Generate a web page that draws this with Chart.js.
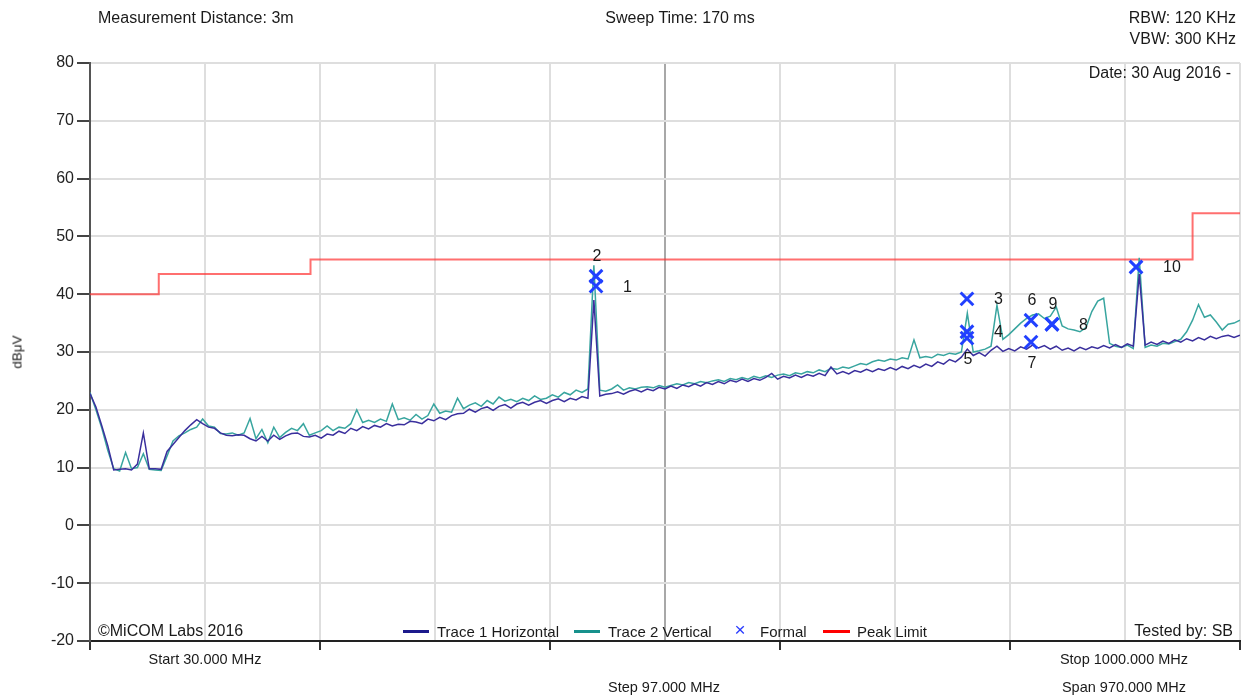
<!DOCTYPE html>
<html>
<head>
<meta charset="utf-8">
<title>Radiated Emissions 30 - 1000 MHz</title>
<script src="https://cdn.jsdelivr.net/npm/chart.js@4.4.1/dist/chart.umd.min.js"></script>
<style>
body{margin:0;background:#fff;font-family:"Liberation Sans",Arial,sans-serif;color:#1a1a1a}
#wrap{position:relative;width:1247px;height:698px;overflow:hidden}
#wrap canvas{position:absolute;left:0;top:0}
.t{position:absolute;white-space:nowrap;line-height:20px;height:20px;font-size:16px}
.c{transform:translateX(-50%)}
.s{font-size:14.5px}
.lg{font-size:15px}
.ln{position:absolute;height:3px}
#ytitle{position:absolute;left:17px;top:352px;font-size:13.5px;white-space:nowrap;transform:translate(-50%,-50%) rotate(-90deg)}
</style>
</head>
<body>
<div id="wrap">
<canvas id="emc" width="1247" height="698"></canvas>

<div class="t" style="left:98px;top:8px">Measurement Distance: 3m</div>
<div class="t c" style="left:680px;top:8px">Sweep Time: 170 ms</div>
<div class="t" style="right:11px;top:8px">RBW: 120 KHz</div>
<div class="t" style="right:11px;top:29px">VBW: 300 KHz</div>
<div class="t" style="right:16px;top:63px">Date: 30 Aug 2016 -</div>
<div class="t" style="left:98px;top:621px">©MiCOM Labs 2016</div>
<div class="t" style="right:14px;top:621px">Tested by: SB</div>

<!-- legend, sits inside the plot like the original -->
<div class="ln" style="left:403px;top:630px;width:26px;background:#1c1a8c"></div>
<div class="t lg" style="left:437px;top:622px">Trace 1 Horizontal</div>
<div class="ln" style="left:574px;top:630px;width:26px;background:#17918c"></div>
<div class="t lg" style="left:608px;top:622px">Trace 2 Vertical</div>
<div class="t c" style="left:740px;top:620px;color:#2a3cff;font-size:19px">×</div>
<div class="t lg" style="left:760px;top:622px">Formal</div>
<div class="ln" style="left:823px;top:630px;width:27px;background:#ff0000"></div>
<div class="t lg" style="left:857px;top:622px">Peak Limit</div>

<div class="t c s" style="left:205px;top:649px">Start 30.000 MHz</div>
<div class="t c s" style="left:1124px;top:649px">Stop 1000.000 MHz</div>
<div class="t c s" style="left:664px;top:677px">Step 97.000 MHz</div>
<div class="t c s" style="left:1124px;top:677px">Span 970.000 MHz</div>
<div id="ytitle">dBμV</div>
</div>

<script>
// sweep: 30 MHz start, one reading every 5 MHz up to 1000 MHz
var startFreq = 30;
var stepFreq = 5;

// Trace 1 Horizontal (dBuV)
var trace1 = [
 22.8, 20.5, 17.2, 13.8, 9.6, 9.7, 9.8, 9.6, 10.6, 16.0,
 9.8, 9.8, 9.7, 12.8, 14.0, 15.2, 16.4, 17.4, 18.3, 17.6,
 17.0, 16.8, 16.0, 15.6, 15.5, 15.7, 15.6, 15.0, 14.6, 15.4,
 14.6, 15.6, 14.9, 15.5, 15.9, 16.0, 15.4, 15.3, 15.6, 15.1,
 15.8, 15.6, 16.3, 15.9, 16.8, 16.4, 17.1, 16.7, 17.3, 17.0,
 17.6, 17.2, 17.5, 17.4, 18.0, 17.9, 17.6, 18.4, 18.1, 18.7,
 18.3, 19.0, 19.3, 19.4, 20.1, 19.6, 20.2, 20.5, 19.9, 20.6,
 20.9, 20.3, 21.0, 21.3, 20.8, 21.3, 21.6, 21.1, 21.6, 21.9,
 21.4, 22.0, 21.7, 22.3, 22.0, 39.0, 22.4, 22.7, 22.8, 23.1,
 22.7, 23.2, 23.5, 23.1, 23.6, 23.3, 23.9, 23.6, 24.1, 23.7,
 24.3, 24.0, 24.5, 24.1, 24.7, 24.4, 24.9, 24.5, 25.1, 24.8,
 25.3, 24.9, 25.4, 25.1, 25.6, 26.3, 25.3, 25.8, 25.5, 26.0,
 25.6, 26.1, 25.8, 26.3, 25.9, 27.4, 26.2, 26.6, 26.2, 26.8,
 26.5, 27.0, 26.6, 27.1, 26.8, 27.3, 26.9, 27.5, 27.1, 27.7,
 27.3, 27.9, 27.5, 28.3, 27.9, 28.7, 28.3, 29.1, 30.5, 29.4,
 29.9, 29.3, 30.3, 31.0, 30.1, 30.6, 30.2, 30.9, 30.5, 31.2,
 30.7, 31.1, 30.5, 31.0, 30.3, 30.7, 30.2, 30.8, 30.4, 30.9,
 30.6, 31.1, 30.7, 31.3, 30.8, 31.4, 31.0, 43.5, 31.2, 31.7,
 31.3, 31.9, 31.5, 32.1, 31.7, 32.3, 31.9, 32.5, 32.1, 32.7,
 32.3, 32.7, 32.9, 32.5, 32.9
];

// Trace 2 Vertical (dBuV)
var trace2 = [
 23.0, 20.0, 16.8, 13.0, 9.8, 9.4, 12.6, 9.8, 10.0, 12.4,
 9.7, 9.6, 9.5, 12.0, 14.6, 15.5, 16.0, 16.6, 17.0, 18.4,
 17.2, 17.0, 15.9, 15.8, 16.0, 15.6, 16.0, 18.5, 15.0, 16.6,
 14.3, 17.0, 15.2, 16.1, 16.8, 16.4, 17.6, 15.6, 16.0, 16.4,
 17.2, 16.4, 17.0, 16.8, 17.6, 20.0, 17.8, 18.2, 17.8, 18.4,
 18.0, 21.0, 18.3, 18.6, 18.2, 19.2, 18.4, 19.0, 21.0, 19.4,
 19.8, 19.6, 22.0, 20.2, 20.8, 21.2, 20.6, 21.6, 21.0, 22.2,
 21.5, 21.8, 21.4, 22.0, 21.6, 22.4, 21.8, 22.0, 22.6, 22.2,
 23.0, 22.6, 23.4, 23.0, 23.6, 45.0, 23.4, 23.2, 23.6, 24.3,
 23.4, 23.8, 23.6, 23.9, 24.0, 23.8, 24.2, 23.9, 24.2, 24.5,
 24.3, 24.7, 24.5, 24.9, 24.7, 25.0, 25.2, 24.9, 25.4, 25.2,
 25.6, 25.3, 25.8, 25.5, 25.9, 25.6, 26.0, 26.2, 25.9, 26.4,
 26.2, 26.6, 26.4, 26.9, 26.6, 27.2, 27.0, 27.4, 27.2, 27.6,
 28.0, 27.8, 28.3, 28.6, 28.4, 28.8, 28.6, 29.0, 28.8, 32.1,
 29.0, 29.2, 29.0, 29.6, 29.4, 29.8, 29.6, 30.0, 36.7, 30.0,
 30.2, 30.5, 31.0, 38.1, 32.2, 33.0, 34.0, 35.0, 35.8, 36.4,
 36.6, 35.8, 36.2, 37.8, 34.5, 34.0, 33.8, 33.5, 34.2, 37.0,
 38.8, 39.3, 31.5, 31.0, 30.8, 31.2, 30.6, 46.3, 30.8, 31.2,
 31.0, 31.5, 31.4, 31.8, 32.2, 33.5, 35.5, 38.2, 36.0, 36.4,
 35.2, 33.8, 34.8, 35.0, 35.5
];

// Formal measurement markers
var markerName  = ['1', '2', '3', '4', '5', '6', '7', '8', '9', '10'];
var markerFreq  = [456.8, 456.8, 769.7, 769.7, 769.7, 823.7, 823.7, 841.4, 841.4, 912.3];
var markerLevel = [41.4, 43.1, 39.2, 33.5, 32.4, 35.5, 31.7, 34.8, 34.8, 44.7];
// where each number sits next to its cross
var markerLabelSide = ['right', 'above', 'right', 'right', 'below', 'above', 'below', 'right', 'above', 'right'];

// Peak limit (dBuV), steps up at each frequency
var limitFreq  = [30, 88, 216, 960, 1000];
var limitLevel = [40, 43.5, 46, 54, 54];

// y axis
var yMin = -20, yMax = 80, yStep = 10;
// x axis grid: 10 divisions of 97 MHz
var xMin = 30, xMax = 1000, xStep = 97;


var freqs = trace1.map(function(v, i){ return startFreq + i * stepFreq; });

function pts(xs, ys){
	return xs.map(function(x, i){ return {x: x, y: ys[i]}; });
}

//draws the marker numbers beside the crosses
var markerLabels = {
	id: 'markerLabels',
	afterDatasetsDraw: function(chart){
		var ctx = chart.ctx, x = chart.scales.x, y = chart.scales.y;
		ctx.save();
		ctx.font = '16px "Liberation Sans", Arial, sans-serif';
		ctx.fillStyle = '#1a1a1a';
		ctx.textBaseline = 'middle';
		for (var i = 0; i < markerName.length; i++) {
			var px = x.getPixelForValue(markerFreq[i]);
			var py = y.getPixelForValue(markerLevel[i]);
			var side = markerLabelSide[i];
			if (side == 'right') {
				ctx.textAlign = 'left';
				ctx.fillText(markerName[i], px + 27, py + 1);
			} else if (side == 'above') {
				ctx.textAlign = 'center';
				ctx.fillText(markerName[i], px + 1, py - 20);
			} else {
				ctx.textAlign = 'center';
				ctx.fillText(markerName[i], px + 1, py + 21);
			}
		}
		ctx.restore();
	}
};

Chart.defaults.font.family = '"Liberation Sans", Arial, sans-serif';
Chart.defaults.color = '#1a1a1a';

new Chart(document.getElementById('emc'), {
	type: 'line',
	data: {
		datasets: [
			{label: 'Trace 1 Horizontal', data: pts(freqs, trace1), borderColor: '#3a2f9d', borderWidth: 1.5, pointRadius: 0, tension: 0},
			{label: 'Trace 2 Vertical', data: pts(freqs, trace2), borderColor: '#38a59f', borderWidth: 1.5, pointRadius: 0, tension: 0},
			{label: 'Formal', data: pts(markerFreq, markerLevel), showLine: false, pointStyle: 'crossRot', pointRadius: 9, borderWidth: 3, borderColor: '#2140ff', backgroundColor: '#2140ff', order: -1},
			{label: 'Peak Limit', data: pts(limitFreq, limitLevel), stepped: true, borderColor: 'rgba(255,50,50,0.7)', borderWidth: 2, pointRadius: 0}
		]
	},
	options: {
		responsive: false,
		animation: false,
		layout: {autoPadding: false, padding: {top: 63, right: 7, left: 0, bottom: 0}},
		plugins: {legend: {display: false}, tooltip: {enabled: false}},
		scales: {
			x: {
				type: 'linear', min: xMin, max: xMax,
				ticks: {stepSize: xStep, display: false},
				grid: {
					color: function(c){ return c.index == 5 ? '#a8a8a8' : '#dedede'; },
					lineWidth: 2,
					tickLength: 9,
					tickColor: function(c){ return c.index % 2 == 0 ? '#333' : 'rgba(0,0,0,0)'; }
				},
				border: {color: '#222', width: 2},
				afterFit: function(s){ s.height = 57; }
			},
			y: {
				min: yMin, max: yMax,
				ticks: {stepSize: yStep, padding: 3, font: {size: 16}, color: '#222'},
				grid: {color: '#dedede', lineWidth: 2, tickLength: 13, tickColor: '#444'},
				border: {color: '#555', width: 2},
				afterFit: function(s){ s.width = 90; }
			}
		}
	},
	plugins: [markerLabels]
});
</script>
</body>
</html>
